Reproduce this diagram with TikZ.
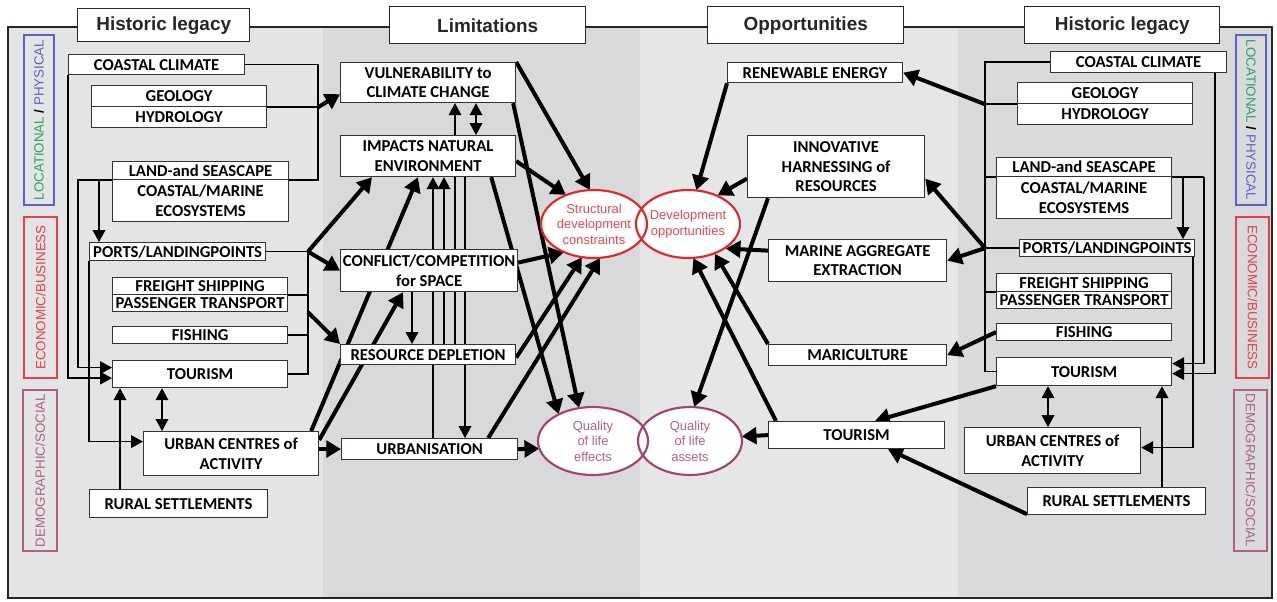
\documentclass[tikz,border=0pt]{standalone}
\usepackage{fontspec}
\setmainfont{Carlito}
\newfontfamily\arialf{Liberation Sans}
\usetikzlibrary{arrows.meta,calc,shapes.geometric}
\pgfdeclarelayer{bg}
\pgfdeclarelayer{lines}
\pgfsetlayers{bg,lines,main}
\definecolor{pL}{RGB}{227,228,228}
\definecolor{pM}{RGB}{216,217,218}
\definecolor{pR}{RGB}{229,230,230}
\definecolor{pRR}{RGB}{217,218,219}
\definecolor{locgreen}{RGB}{40,165,95}
\definecolor{physblue}{RGB}{95,95,200}
\definecolor{econred}{RGB}{235,60,72}
\definecolor{demomauve}{RGB}{178,95,135}
\definecolor{ellred}{RGB}{228,38,42}
\definecolor{ellredtxt}{RGB}{236,72,80}
\definecolor{ellmauve}{RGB}{165,65,115}
\definecolor{ellmauvetxt}{RGB}{180,95,140}
\tikzset{
  bxs/.style={draw=black!80, line width=0.9pt, fill=white, inner sep=0pt, align=center,
    font=\fontsize{12.5}{14.8}\selectfont\bfseries},
  hdr/.style={draw=black!85, line width=1.1pt, fill=white, inner sep=0pt,
    font=\arialf\fontsize{14.2}{16}\selectfont\bfseries, text=black!85},
  side/.style={line width=0.9pt, inner sep=0pt, font=\arialf\fontsize{10}{11}\selectfont},
  ellnode/.style={ellipse, fill=white, inner sep=0pt, align=center,
    font=\arialf\fontsize{9.7}{11.6}\selectfont},
  thinln/.style={line width=1.1pt, black},
  thinarr/.style={thinln, -{Triangle[length=9pt,width=9.5pt]}},
  thinarrb/.style={thinln, {Triangle[length=9pt,width=9.5pt]}-{Triangle[length=9pt,width=9.5pt]}},
  thickarr/.style={line width=3pt, black, -{Triangle[length=11pt,width=12.5pt]}},
  ellredline/.style={draw=ellred, line width=1.6pt},
  ellmauveline/.style={draw=ellmauve, line width=1.6pt}
}
\newcommand\mybox[7][]{\node[bxs,#1,minimum width={(#5-#3)*0.75pt},minimum height={(#6-#4)*0.75pt},anchor=north west] (#2) at (#3,#4) {#7};}
\begin{document}
\begin{tikzpicture}[x=0.75pt,y=-0.75pt]
\path[use as bounding box] (0,0) rectangle (1277,601);

% ---------- headers ----------
\mybox[hdr]{H1}{77}{8}{249}{41}{Historic legacy}
\mybox[hdr]{H2}{389}{6}{585}{43}{Limitations}
\mybox[hdr]{H3}{707}{6}{903}{43}{Opportunities}
\mybox[hdr]{H4}{1024}{6}{1219}{43}{Historic legacy}

% ---------- side labels ----------
\node[side, draw=physblue, rotate=90, minimum width={170*0.75pt}, minimum height={30*0.75pt}] (S1) at (39,120)
  {{\color{locgreen}LOCATIONAL} \textbf{/} {\color{physblue}PHYSICAL}};
\node[side, draw=econred, text=econred, rotate=90, minimum width={161*0.75pt}, minimum height={33*0.75pt}] (S2) at (40.5,297.5) {ECONOMIC/BUSINESS};
\node[side, draw=demomauve, text=demomauve, rotate=90, minimum width={161*0.75pt}, minimum height={34*0.75pt}] (S3) at (40,470.5) {DEMOGRAPHIC/SOCIAL};
\node[side, draw=physblue, rotate=-90, minimum width={170*0.75pt}, minimum height={30*0.75pt}] (S4) at (1251,120)
  {{\color{locgreen}LOCATIONAL} \textbf{/} {\color{physblue}PHYSICAL}};
\node[side, draw=econred, text=econred, rotate=-90, minimum width={161*0.75pt}, minimum height={33*0.75pt}] (S5) at (1252.5,297.5) {ECONOMIC/BUSINESS};
\node[side, draw=demomauve, text=demomauve, rotate=-90, minimum width={161*0.75pt}, minimum height={33*0.75pt}] (S6) at (1250.5,470.5) {DEMOGRAPHIC/SOCIAL};

% ---------- left historic legacy ----------
\mybox{L_cc}{68}{54}{244}{74}{COASTAL CLIMATE}
\mybox{L_geo}{91}{85}{266}{106}{GEOLOGY}
\mybox{L_hyd}{91}{106}{266}{127}{HYDROLOGY}
\mybox{L_land}{112}{161}{288}{179}{LAND-and SEASCAPE}
\mybox{L_eco}{112}{179}{288}{221}{COASTAL/MARINE\\ECOSYSTEMS}
\mybox{L_ports}{89}{242}{265}{260}{PORTS/LANDINGPOINTS}
\mybox{L_freight}{112}{277}{287}{294}{FREIGHT SHIPPING}
\mybox{L_pass}{112}{294}{287}{311}{PASSENGER TRANSPORT}
\mybox{L_fish}{112}{326}{287}{343}{FISHING}
\mybox{L_tour}{112}{360}{287}{387}{TOURISM}
\mybox{L_urban}{143}{431}{318}{475}{URBAN CENTRES of\\ACTIVITY}
\mybox{L_rural}{89}{489}{267}{517}{RURAL SETTLEMENTS}

% ---------- limitations ----------
\mybox{M_vuln}{340}{62}{515}{102}{VULNERABILITY to\\CLIMATE CHANGE}
\mybox{M_imp}{340}{135}{515}{176}{IMPACTS NATURAL\\ENVIRONMENT}
\mybox{M_conf}{340}{249}{517}{291}{CONFLICT/COMPETITION\\for SPACE}
\mybox{M_res}{340}{344}{515}{364}{RESOURCE DEPLETION}
\mybox{M_urb}{341}{438}{517}{459}{URBANISATION}

% ---------- ellipses ----------
\node[ellnode, text=ellredtxt, minimum width={106*0.75pt}, minimum height={68*0.75pt}] (E_sdc) at (594,224) {Structural\\development\\constraints};
\node[ellnode, text=ellredtxt, minimum width={104*0.75pt}, minimum height={68*0.75pt}] (E_dev) at (688,224) {Development\\opportunities};
\node[ellnode, text=ellmauvetxt, minimum width={110*0.75pt}, minimum height={68*0.75pt}] (E_qle) at (593,441) {Quality\\of life\\effects};
\node[ellnode, text=ellmauvetxt, minimum width={104*0.75pt}, minimum height={68*0.75pt}] (E_qla) at (690,441) {Quality\\of life\\assets};
\draw[ellredline] (E_sdc.center) ellipse [x radius=39.75pt, y radius=25.5pt];
\draw[ellredline] (E_dev.center) ellipse [x radius=39pt, y radius=25.5pt];
\draw[ellmauveline] (E_qle.center) ellipse [x radius=41.25pt, y radius=25.5pt];
\draw[ellmauveline] (E_qla.center) ellipse [x radius=39pt, y radius=25.5pt];

% ---------- opportunities ----------
\mybox{O_ren}{727}{62}{902}{82}{RENEWABLE ENERGY}
\mybox{O_inn}{747}{135}{924}{197}{INNOVATIVE\\HARNESSING of\\RESOURCES}
\mybox{O_mar}{768}{239}{946}{281}{MARINE AGGREGATE\\EXTRACTION}
\mybox{O_maric}{768}{344}{946}{365}{MARICULTURE}
\mybox{O_tour}{768}{421}{944}{448}{TOURISM}

% ---------- right historic legacy ----------
\mybox{R_cc}{1050}{51}{1226}{72}{COASTAL CLIMATE}
\mybox{R_geo}{1017}{82}{1192}{103}{GEOLOGY}
\mybox{R_hyd}{1017}{103}{1192}{124}{HYDROLOGY}
\mybox{R_land}{996}{157}{1171}{176}{LAND-and SEASCAPE}
\mybox{R_eco}{996}{176}{1171}{218}{COASTAL/MARINE\\ECOSYSTEMS}
\mybox{R_ports}{1019}{239}{1194}{256}{PORTS/LANDINGPOINTS}
\mybox{R_freight}{996}{273}{1171}{291}{FREIGHT SHIPPING}
\mybox{R_pass}{996}{291}{1171}{308}{PASSENGER TRANSPORT}
\mybox{R_fish}{996}{323}{1171}{340}{FISHING}
\mybox{R_tour}{996}{357}{1171}{385}{TOURISM}
\mybox{R_urban}{964}{427}{1140}{473}{URBAN CENTRES of\\ACTIVITY}
\mybox{R_rural}{1027}{487}{1205}{514}{RURAL SETTLEMENTS}

% ---------- bus coordinates ----------
\coordinate (xL318) at (318,0);
\coordinate (xL308) at (308,0);
\coordinate (xL99) at (99,0);
\coordinate (xL78) at (78,0);
\coordinate (xL120) at (120,0);
\coordinate (xL162) at (162,0);
\coordinate (xM412) at (412,0);
\coordinate (xM433) at (433,0);
\coordinate (xM444) at (444,0);
\coordinate (xM455) at (455,0);
\coordinate (xM465) at (465,0);
\coordinate (xM476) at (476,0);
\coordinate (xR985) at (985,0);
\coordinate (xR1183) at (1183,0);
\coordinate (xR1204) at (1204,0);
\coordinate (xR1215) at (1215,0);
\coordinate (xR1193) at (1193,0);
\coordinate (xR1162) at (1162,0);
\coordinate (xR1048) at (1048,0);

\begin{pgfonlayer}{bg}
  \fill[pL] (8,27) rectangle (323,598);
  \fill[pM] (323,27) rectangle (640,598);
  \fill[pR] (640,27) rectangle (958,598);
  \fill[pRR] (958,27) rectangle (1272,598);
  \draw[line width=1.2pt, black!85] (8,27) rectangle (1272,598);
\end{pgfonlayer}

\begin{pgfonlayer}{lines}
  % left side
  \draw[thinln] (L_cc.east) -| (xL318 |- L_land.south east) -- (L_land.south east);
  \draw[thinln] (L_geo.south east) -- (xL318 |- L_geo.south east);
  \draw[thickarr] (xL318 |- L_geo.south east) -- ($(M_vuln.south west)+(0,-9)$);
  \draw[thinarr] (L_land.south west) -- (xL78 |- L_land.south west) |- ($(L_tour.west)+(0,-6.5)$);
  \draw[thinarr] (xL99 |- L_land.south west) -- (xL99 |- L_ports.north);
  \draw[thinarr] (L_cc.south west) |- ($(L_tour.west)+(0,4)$);
  \draw[thinarr] (L_ports.south west) |- ($(L_urban.west)+(0,-12)$);
  \draw[thinarr] (xL120 |- L_rural.north) -- (xL120 |- L_tour.south);
  \draw[thinarrb] (xL162 |- L_tour.south) -- (xL162 |- L_urban.north);
  \draw[thinln] (L_ports.east) -- (xL308 |- L_ports.east) -- (xL308 |- L_tour.east) -- (L_tour.east);
  \draw[thinln] (L_freight.south east) -- (xL308 |- L_freight.south east);
  \draw[thinln] (L_fish.east) -- (xL308 |- L_fish.east);
  \draw[thickarr] (xL308 |- L_ports.east) -- ($(M_imp.south west)+(32,0)$);
  \draw[thickarr] (xL308 |- L_ports.east) -- (M_conf.west);
  \draw[thickarr] (xL308 |- L_pass.south east) -- (M_res.north west);
  \draw[thickarr] (L_urban.east |- M_urb.west) -- (M_urb.west);
  \draw[thickarr] ($(L_urban.north east)+(-8,0)$) -- ($(M_imp.south west)+(78,0)$);
  \draw[thickarr] ($(L_urban.north east)+(0,9)$) -- ($(M_conf.south west)+(63,0)$);
  % middle thin
  \draw[thinarr] (xM412 |- M_conf.south) -- (xM412 |- M_res.north);
  \draw[thinarr] (xM433 |- M_urb.north) -- (xM433 |- M_imp.south);
  \draw[thinarr] (xM444 |- M_res.north) -- (xM444 |- M_imp.south);
  \draw[thinarr] (xM455 |- M_res.north) -- (xM455 |- M_vuln.south);
  \draw[thinarr] (xM465 |- M_imp.south) -- (xM465 |- M_urb.north);
  \draw[thinarrb] (xM476 |- M_imp.north) -- (xM476 |- M_vuln.south);
  % limitations to ellipses
  \draw[thickarr] (M_vuln.north east) -- (E_sdc.97);
  \draw[thickarr] ($(M_vuln.south east)+(-3,0)$) -- (E_qle.113);
  \draw[thickarr] ($(M_imp.south east)+(-25,0)$) -- (E_qle.142);
  \draw[thickarr] ($(M_imp.east)+(0,5)$) -- (E_sdc.134);
  \draw[thickarr] ($(M_conf.east)+(0,-8)$) -- (E_sdc.223);
  \draw[thickarr] ($(M_res.east)+(0,3)$) -- (E_sdc.250);
  \draw[thickarr] ($(M_urb.north east)+(-30,0)$) -- (E_sdc.280);
  \draw[thickarr] (M_urb.east) -- (E_qle.188);
  % opportunities to ellipses
  \draw[thickarr] (O_ren.south west) -- (E_dev.76);
  \draw[thickarr] ($(O_inn.west)+(0,12)$) -- (E_dev.44);
  \draw[thickarr] ($(O_inn.south west)+(21,0)$) -- (E_qla.83);
  \draw[thickarr] ($(O_mar.west)+(0,-10)$) -- (E_dev.327);
  \draw[thickarr] (O_maric.north west) -- (E_dev.312);
  \draw[thickarr] ($(O_tour.north west)+(8,0)$) -- (E_dev.279);
  \draw[thickarr] (O_tour.west) -- (E_qla.5);
  % right side
  \draw[thinln] (R_cc.west) -- (xR985 |- R_cc.west) -- (xR985 |- R_tour.west) -- ++(11,0);
  \draw[thinln] (xR985 |- R_land.south west) -- (R_land.south west);
  \draw[thinln] (R_geo.south west) -- (xR985 |- R_geo.south west);
  \draw[thinln] (R_ports.west) -- (xR985 |- R_ports.west);
  \draw[thinln] (R_freight.south west) -- (xR985 |- R_freight.south west);
  \draw[thickarr] (xR985 |- R_geo.south west) -- (O_ren.east);
  \draw[thickarr] (xR985 |- R_ports.west) -- ($(O_inn.east)+(0,12)$);
  \draw[thickarr] (xR985 |- R_ports.west) -- (O_mar.east);
  \draw[thickarr] (R_fish.west) -- (O_maric.east);
  \draw[thickarr] (R_tour.south west) -- ($(O_tour.north west)+(107,0)$);
  \draw[thickarr] ($(R_rural.south west)+(0,-1)$) -- ($(O_tour.south west)+(120,0)$);
  \draw[thinln] (R_land.south east) -- (xR1204 |- R_land.south east);
  \draw[thinarr] (xR1183 |- R_land.south east) -- (xR1183 |- R_ports.north);
  \draw[thinarr] (xR1204 |- R_land.south east) |- ($(R_tour.east)+(0,-8)$);
  \draw[thinarr] (xR1215 |- R_cc.south) |- ($(R_tour.east)+(0,2)$);
  \draw[thinarr] (xR1193 |- R_ports.south) |- ($(R_urban.east)+(0,-3)$);
  \draw[thinarr] (xR1162 |- R_rural.north) -- (xR1162 |- R_tour.south);
  \draw[thinarrb] (xR1048 |- R_tour.south) -- (xR1048 |- R_urban.north);
\end{pgfonlayer}
\end{tikzpicture}
\end{document}
